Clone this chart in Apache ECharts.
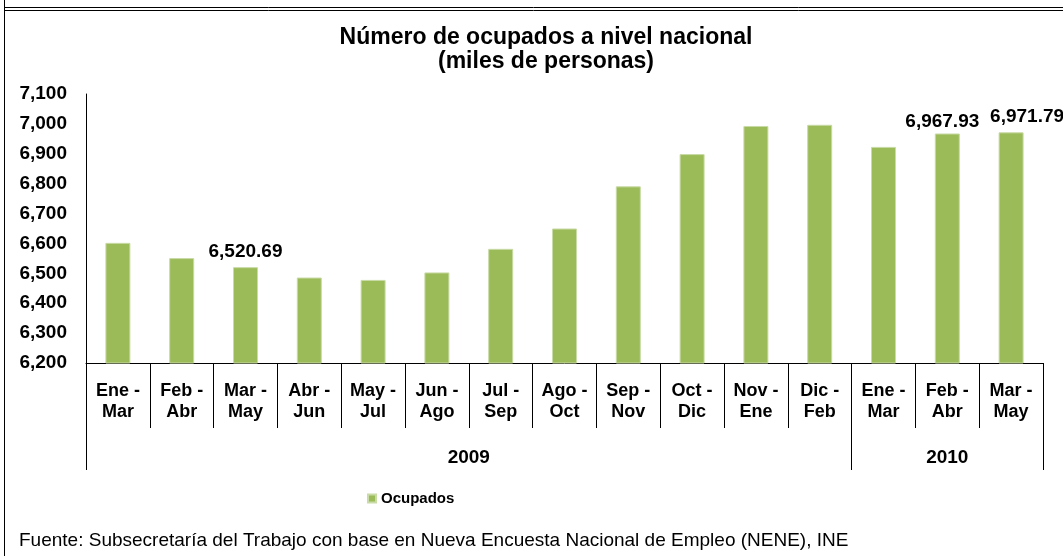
<!DOCTYPE html>
<html>
<head>
<meta charset="utf-8">
<script src="https://cdn.jsdelivr.net/npm/echarts@6/dist/echarts.min.js"></script>
<style>
html,body{margin:0;padding:0;background:#fff;}
#main{width:1063px;height:556px;}
</style>
</head>
<body>
<div id="main"></div>
<script>
var periodos = ['Ene -\nMar','Feb -\nAbr','Mar -\nMay','Abr -\nJun','May -\nJul','Jun -\nAgo','Jul -\nSep','Ago -\nOct','Sep -\nNov','Oct -\nDic','Nov -\nEne','Dic -\nFeb','Ene -\nMar','Feb -\nAbr','Mar -\nMay'];
var ocupados = [6602, 6551, 6520.69, 6486, 6478, 6503, 6582, 6650, 6791, 6899, 6993, 6997, 6923, 6967.93, 6971.79];
var conEtiqueta = [2, 13, 14];
var anios = ['2009', '2010'];
var limitesAnio = [0, 12, 15];
var centrosAnio = [6, 13.5];

var fuente = 'Liberation Sans, Arial, sans-serif';
var verde = '#9BBB59';

// desplazamiento de las etiquetas de dato (como en el original)
var despl = { 2: [0, 0], 13: [-5, 4], 14: [16, 0] };

function miles(v){
	var p = v.toFixed(v % 1 ? 2 : 0).split('.');
	p[0] = p[0].replace(/\B(?=(\d{3})+(?!\d))/g, ',');
	return p.join('.');
}

var myChart = echarts.init(document.getElementById('main'));

var barras = ocupados.map(function(v, i){
	var con = conEtiqueta.indexOf(i) >= 0;
	return {
		value: v,
		label: { show: con, offset: con ? despl[i] : [0, 0] }
	};
});

myChart.setOption({
	animation: false,
	textStyle: { fontFamily: fuente },
	grid: { left: 86, right: 20, top: 94, bottom: 193 },
	legend: {
		left: 362, top: 486,
		itemWidth: 8, itemHeight: 8, itemGap: 5,
		icon: 'rect',
		textStyle: { fontFamily: fuente, fontWeight: 'bold', fontSize: 15, color: '#000' },
		data: ['Ocupados']
	},
	xAxis: [{
		type: 'category',
		data: periodos,
		axisLine: { lineStyle: { color: '#000', width: 1 } },
		axisTick: { show: true, interval: 0, length: 65, lineStyle: { color: '#000' } },
		axisLabel: {
			interval: 0, margin: 18,
			fontFamily: fuente, fontWeight: 'bold', fontSize: 18, lineHeight: 21, color: '#000'
		}
	}, {
		type: 'value',
		min: 0, max: 15,
		position: 'bottom',
		axisLine: { show: false },
		splitLine: { show: false },
		axisTick: { show: true, customValues: limitesAnio, length: 107, lineStyle: { color: '#000' } },
		axisLabel: {
			customValues: centrosAnio, margin: 85,
			fontFamily: fuente, fontWeight: 'bold', fontSize: 19, color: '#000',
			formatter: function(v){ return anios[centrosAnio.indexOf(v)]; }
		}
	}],
	yAxis: {
		type: 'value',
		min: 6200, max: 7100, interval: 100,
		axisLine: { show: true, lineStyle: { color: '#000', width: 1 } },
		axisTick: { show: false },
		splitLine: { show: false },
		axisLabel: {
			margin: 19,
			fontFamily: fuente, fontWeight: 'bold', fontSize: 19, color: '#000',
			formatter: function(v){ return miles(v); }
		}
	},
	series: [{
		name: 'Ocupados',
		type: 'bar',
		xAxisIndex: 0,
		barWidth: 25,
		data: barras,
		itemStyle: { color: verde, borderColor: '#C9DBA6', borderWidth: 1 },
		label: {
			position: 'top', distance: 6,
			fontFamily: fuente, fontWeight: 'bold', fontSize: 19, color: '#000',
			formatter: function(p){ return miles(p.value); }
		}
	}],
	graphic: [
		{ type: 'line', shape: { x1: 4, y1: 7.5, x2: 1063, y2: 7.5 }, style: { stroke: '#000', lineWidth: 1 } },
		{ type: 'line', shape: { x1: 4, y1: 10.5, x2: 1063, y2: 10.5 }, style: { stroke: '#000', lineWidth: 1 } },
		{ type: 'line', shape: { x1: 4.5, y1: 0, x2: 4.5, y2: 556 }, style: { stroke: '#000', lineWidth: 1 } },
		{ type: 'text', x: 546, y: 38, style: {
			text: 'Número de ocupados a nivel nacional', textAlign: 'center', textVerticalAlign: 'middle',
			font: 'bold 23px ' + fuente, fill: '#000' } },
		{ type: 'text', x: 546, y: 62, style: {
			text: '(miles de personas)', textAlign: 'center', textVerticalAlign: 'middle',
			font: 'bold 23px ' + fuente, fill: '#000' } },
		{ type: 'text', x: 19, y: 541, style: {
			text: 'Fuente: Subsecretaría del Trabajo con base en Nueva Encuesta Nacional de Empleo (NENE), INE',
			textVerticalAlign: 'middle', font: '19px ' + fuente, fill: '#000' } }
	]
});
</script>
</body>
</html>
